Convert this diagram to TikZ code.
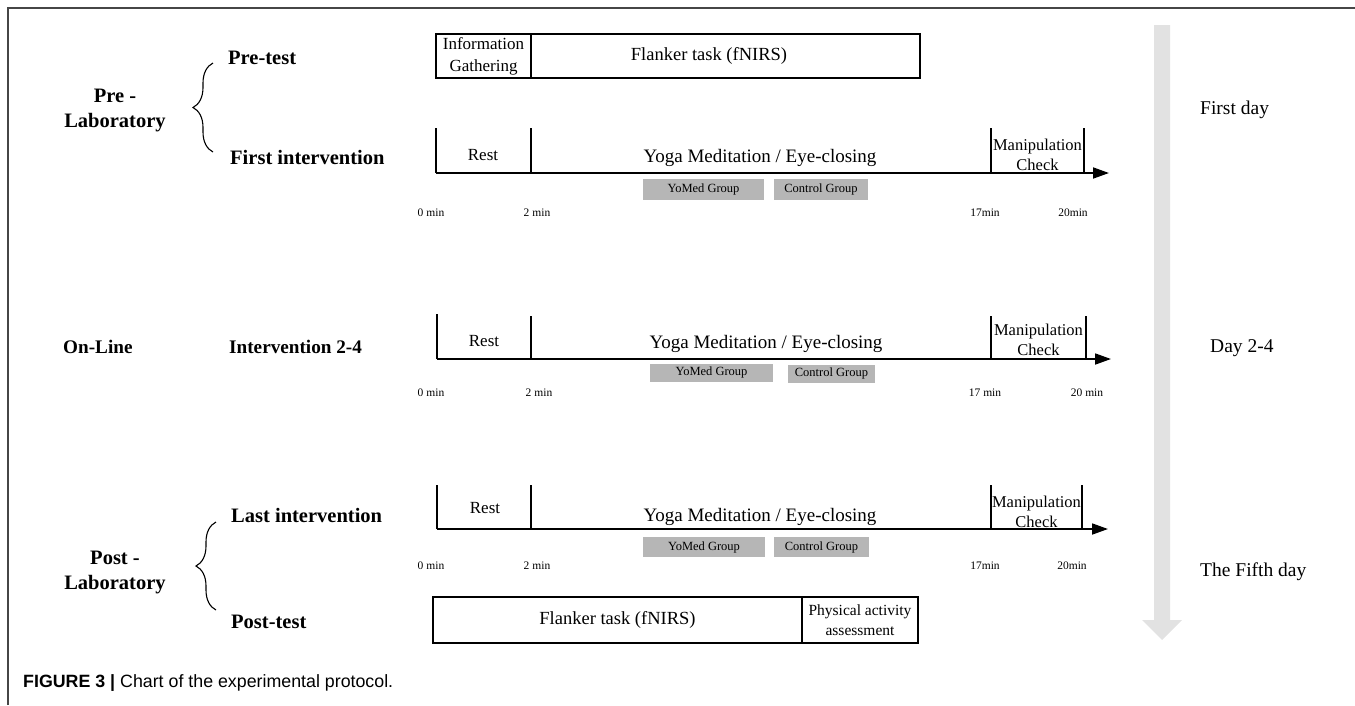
\documentclass[tikz,border=0pt]{standalone}
\usepackage{fontspec}
\setmainfont{Liberation Serif}
\newfontfamily\capfont{Liberation Sans}
\usetikzlibrary{arrows.meta,decorations.pathreplacing}
\definecolor{grpgray}{RGB}{182,182,182}
\definecolor{daygray}{RGB}{226,226,226}
\definecolor{framegray}{RGB}{70,70,70}
\begin{document}
\begin{tikzpicture}[x=1pt,y=-1pt,
  lab/.style={font=\fontsize{20.5}{25}\selectfont\bfseries, inner sep=0pt, align=center},
  labs/.style={font=\fontsize{19.2}{23}\selectfont\bfseries, inner sep=0pt, align=center},
  txt/.style={font=\fontsize{17}{20}\selectfont, inner sep=0pt, align=center},
  big/.style={font=\fontsize{19}{22}\selectfont, inner sep=0pt},
  mins/.style={font=\fontsize{11.5}{13}\selectfont, inner sep=0pt},
  grp/.style={fill=grpgray, inner sep=0pt, font=\fontsize{12.5}{14}\selectfont},
  tl/.style={line width=1.8pt, -{Triangle[length=16pt,width=11pt]}},
  tk/.style={line width=1.6pt},
  boxx/.style={draw, line width=1.8pt, inner sep=0pt, outer sep=0pt, align=center},
  day/.style={font=\fontsize{19.5}{23}\selectfont, inner sep=0pt, anchor=west},
  brc/.style={decorate, decoration={brace, amplitude=20pt}, line width=1.1pt}
]
\useasboundingbox (0,0) rectangle (1355,705);
% frame
\draw[line width=1.3pt, framegray] (8,705) -- (8,8) -- (1355,8);

% left labels
\node[lab] (prelab) at (115,110) {Pre -\\Laboratory};
\node[lab, anchor=west] (pretest) at (228,58) {Pre-test};
\node[lab, anchor=west] (firstint) at (230,157) {First intervention};
\coordinate (b1top) at (213,63);
\coordinate (b1bot) at (213,152);
\draw[brc] (b1bot) -- (b1top);

\node[labs, anchor=west] (online) at (63,347) {On-Line};
\node[labs, anchor=west] (int24) at (229,347) {Intervention 2-4};

\node[lab] (postlab) at (115,572) {Post -\\Laboratory};
\node[lab, anchor=west] (lastint) at (231,515) {Last intervention};
\node[lab, anchor=west] (posttest) at (231,622) {Post-test};
\coordinate (b2top) at (216,522);
\coordinate (b2bot) at (216,610);
\draw[brc] (b2bot) -- (b2top);

% pre-test boxes
\node[boxx, minimum width=95pt, minimum height=44pt, font=\fontsize{17}{22}\selectfont] (info) at (483.5,56) {Information\\Gathering};
\node[boxx, minimum width=389pt, minimum height=44pt] (flank1) at (725.5,56) {};
\node[inner sep=0pt, font=\fontsize{18.5}{21}\selectfont] (flank1t) at (709,56) {Flanker task (fNIRS)};

% row 1
\coordinate (r1a) at (436,173);
\coordinate (r1b) at (531,173);
\coordinate (r1c) at (991,173);
\coordinate (r1d) at (1084,173);
\coordinate (r1e) at (1109,173);
\coordinate (r1at) at (436,128);
\coordinate (r1bt) at (531,128);
\coordinate (r1ct) at (991,128);
\coordinate (r1dt) at (1084,128);
\draw[tl] (r1a) -- (r1e);
\draw[tk] (r1a) -- (r1at);
\draw[tk] (r1b) -- (r1bt);
\draw[tk] (r1c) -- (r1ct);
\draw[tk] (r1d) -- (r1dt);
\node[txt] (rest1) at (483,155) {Rest};
\node[big] (yoga1) at (760,158) {Yoga Meditation / Eye-closing};
\node[txt, font=\fontsize{16.5}{20}\selectfont] (man1) at (1037.5,155) {Manipulation\\Check};
\node[grp, minimum width=121pt, minimum height=21pt] (yo1) at (703.5,189.5) {YoMed Group};
\node[grp, minimum width=94pt, minimum height=21pt] (co1) at (821,189.5) {Control Group};
\node[mins] (m1a) at (431,213) {0 min};
\node[mins] (m1b) at (537,213) {2 min};
\node[mins] (m1c) at (985,213) {17min};
\node[mins] (m1d) at (1073,213) {20min};

% row 2
\coordinate (r2a) at (437,359);
\coordinate (r2b) at (531,359);
\coordinate (r2c) at (991,359);
\coordinate (r2d) at (1086,359);
\coordinate (r2e) at (1111,359);
\coordinate (r2at) at (437,314);
\coordinate (r2bt) at (531,316);
\coordinate (r2ct) at (991,316);
\coordinate (r2dt) at (1086,316);
\draw[tl] (r2a) -- (r2e);
\draw[tk] (r2a) -- (r2at);
\draw[tk] (r2b) -- (r2bt);
\draw[tk] (r2c) -- (r2ct);
\draw[tk] (r2d) -- (r2dt);
\node[txt] (rest2) at (484,341) {Rest};
\node[big] (yoga2) at (766,344) {Yoga Meditation / Eye-closing};
\node[txt, font=\fontsize{16.5}{20}\selectfont] (man2) at (1038.5,340) {Manipulation\\Check};
\node[grp, minimum width=123pt, minimum height=18pt] (yo2) at (711.5,372.5) {YoMed Group};
\node[grp, minimum width=87pt, minimum height=18pt] (co2) at (831.5,373.5) {Control Group};
\node[mins] (m2a) at (431,393) {0 min};
\node[mins] (m2b) at (539,393) {2 min};
\node[mins] (m2c) at (985,393) {17 min};
\node[mins] (m2d) at (1087,393) {20 min};

% row 3
\coordinate (r3a) at (437,529);
\coordinate (r3b) at (531,529);
\coordinate (r3c) at (991,529);
\coordinate (r3d) at (1082,529);
\coordinate (r3e) at (1108,529);
\coordinate (r3at) at (437,485);
\coordinate (r3bt) at (531,485);
\coordinate (r3ct) at (991,485);
\coordinate (r3dt) at (1082,485);
\draw[tl] (r3a) -- (r3e);
\draw[tk] (r3a) -- (r3at);
\draw[tk] (r3b) -- (r3bt);
\draw[tk] (r3c) -- (r3ct);
\draw[tk] (r3d) -- (r3dt);
\node[txt] (rest3) at (485,508) {Rest};
\node[big] (yoga3) at (760,517) {Yoga Meditation / Eye-closing};
\node[txt, font=\fontsize{16.5}{20}\selectfont] (man3) at (1036.5,512) {Manipulation\\Check};
\node[grp, minimum width=122pt, minimum height=20pt] (yo3) at (704,547) {YoMed Group};
\node[grp, minimum width=95pt, minimum height=20pt] (co3) at (821.5,547) {Control Group};
\node[mins] (m3a) at (431,566) {0 min};
\node[mins] (m3b) at (537,566) {2 min};
\node[mins] (m3c) at (985,566) {17min};
\node[mins] (m3d) at (1072,566) {20min};

% post-test boxes
\node[boxx, minimum width=369pt, minimum height=46pt, font=\fontsize{18.5}{21}\selectfont] (flank2) at (617.5,620) {Flanker task (fNIRS)};
\node[boxx, minimum width=116pt, minimum height=46pt, font=\fontsize{15.5}{20}\selectfont] (phys) at (860,620) {Physical activity\\assessment};

% day arrow
\fill[daygray] (1154,25) -- (1170,25) -- (1170,620) -- (1182,620) -- (1162,640) -- (1142,620) -- (1154,620) -- cycle;
\node[day] (d1) at (1200,110) {First day};
\node[day] (d2) at (1210,348) {Day 2-4};
\node[day] (d3) at (1200,572) {The Fifth day};

% caption
\node[anchor=west, inner sep=0pt, font=\capfont\fontsize{17.8}{21}\selectfont] (cap) at (23,683) {{\bfseries FIGURE 3 |} Chart of the experimental protocol.};
\end{tikzpicture}
\end{document}
